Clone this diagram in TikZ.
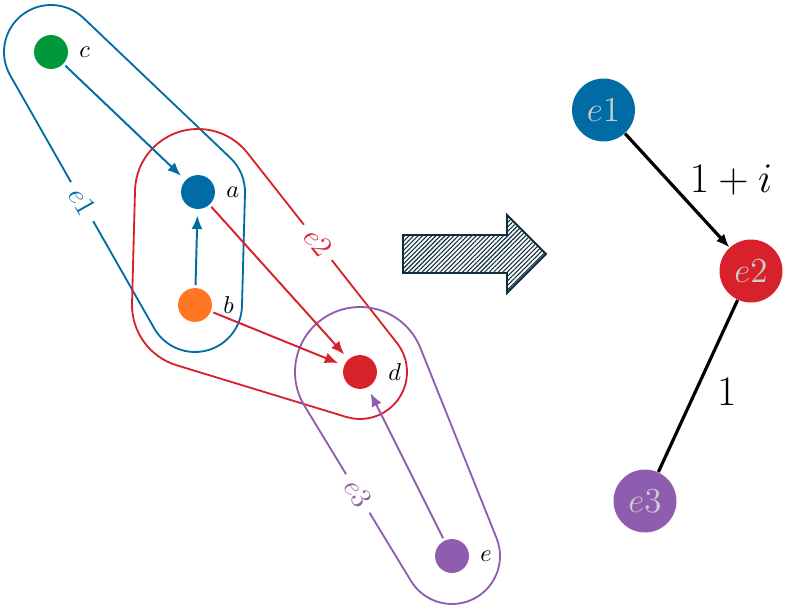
\documentclass[tikz,border=0pt]{standalone}
\usetikzlibrary{arrows.meta,patterns.meta,calc}
\definecolor{cblue}{RGB}{0,107,164}
\definecolor{cgreen}{RGB}{0,152,58}
\definecolor{corange}{RGB}{255,119,34}
\definecolor{cred}{RGB}{215,34,43}
\definecolor{cpurple}{RGB}{142,93,176}
\definecolor{lgray}{RGB}{205,205,205}
\definecolor{darrow}{RGB}{15,45,60}
\begin{document}
\begin{tikzpicture}[x=0.41pt,y=-0.41pt,
  vtx/.style={circle,minimum size=13.9pt,inner sep=0pt,fill=#1},
  vlab/.style={label distance=1pt},
  hull/.style={draw=#1,line width=0.75pt},
  hlab/.style={sloped,fill=white,inner sep=3.5pt,text=#1,font=\large},
  arr/.style={draw=#1,line width=0.8pt,-{Latex[length=5.5pt,width=4.5pt]},shorten >=2.5pt,shorten <=1pt},
  bign/.style={circle,minimum size=25.8pt,inner sep=0pt,fill=#1,text=lgray,font=\Large},
  bedge/.style={line width=1.3pt,draw=black}]
\useasboundingbox (0,0) rectangle (787,609);

% vertices
\node[vtx=cgreen,label={[vlab]right:$c$}] (c) at (51,52) {};
\node[vtx=cblue,label={[vlab]right:$a$}] (a) at (198,192) {};
\node[vtx=corange,label={[vlab]right:$b$}] (b) at (195,305) {};
\node[vtx=cred,label={[vlab]right:$d$}] (d) at (360,372) {};
\node[vtx=cpurple,label={[vlab]right:$e$}] (e) at (452,556) {};

% hyperedge e1 (c,a,b)
\draw[hull=cblue] ($(c)+(-46.4:47)$) -- ($(a)+(-46.4:47)$)
  arc[start angle=-46.4,end angle=1.5,radius=47]
  -- ($(b)+(1.5:47)$)
  arc[start angle=1.5,end angle=150.45,radius=47]
  -- node[hlab=cblue,midway] {$e1$} ($(c)+(150.45:47)$)
  arc[start angle=150.45,end angle=313.6,radius=47] -- cycle;

% hyperedge e2 (a,b,d)
\draw[hull=cred] ($(a)+(-38.05:63)$) -- node[hlab=cred,pos=0.47] {$e2$} ($(d)+(-38.05:47)$)
  arc[start angle=-38.05,end angle=106.95,radius=47]
  -- ($(b)+(106.95:63)$)
  arc[start angle=106.95,end angle=181.5,radius=63]
  -- ($(a)+(181.5:63)$)
  arc[start angle=181.5,end angle=321.95,radius=63] -- cycle;

% hyperedge e3 (d,e)
\draw[hull=cpurple] ($(d)+(-21.93:65)$) -- ($(e)+(-21.93:48)$)
  arc[start angle=-21.93,end angle=148.54,radius=48]
  -- node[hlab=cpurple,midway] {$e3$} ($(d)+(148.54:65)$)
  arc[start angle=148.54,end angle=338.07,radius=65] -- cycle;

% arcs
\draw[arr=cblue] (c) -- (a);
\draw[arr=cblue] (b) -- (a);
\draw[arr=cred] (a) -- (d);
\draw[arr=cred] (b) -- (d);
\draw[arr=cpurple] (e) -- (d);

% big arrow
\draw[draw=darrow,line width=0.8pt,pattern={Lines[angle=45,distance=1.3pt,line width=0.45pt]},pattern color=darrow]
  (403,235) -- (507,235) -- (507,215) -- (546,254) -- (507,293) -- (507,273) -- (403,273) -- cycle;

% line graph
\node[bign=cblue] (E1) at (603.5,110) {$e1$};
\node[bign=cred] (E2) at (751,271) {$e2$};
\node[bign=cpurple] (E3) at (645,501) {$e3$};
\draw[bedge,-{Latex[length=5.5pt,width=4.5pt]}] (E1) -- node[pos=0.41,right=5pt,font=\LARGE] {$1+i$} (E2);
\draw[bedge] (E2) -- node[pos=0.535,right=5pt,font=\LARGE] {$1$} (E3);
\end{tikzpicture}
\end{document}
